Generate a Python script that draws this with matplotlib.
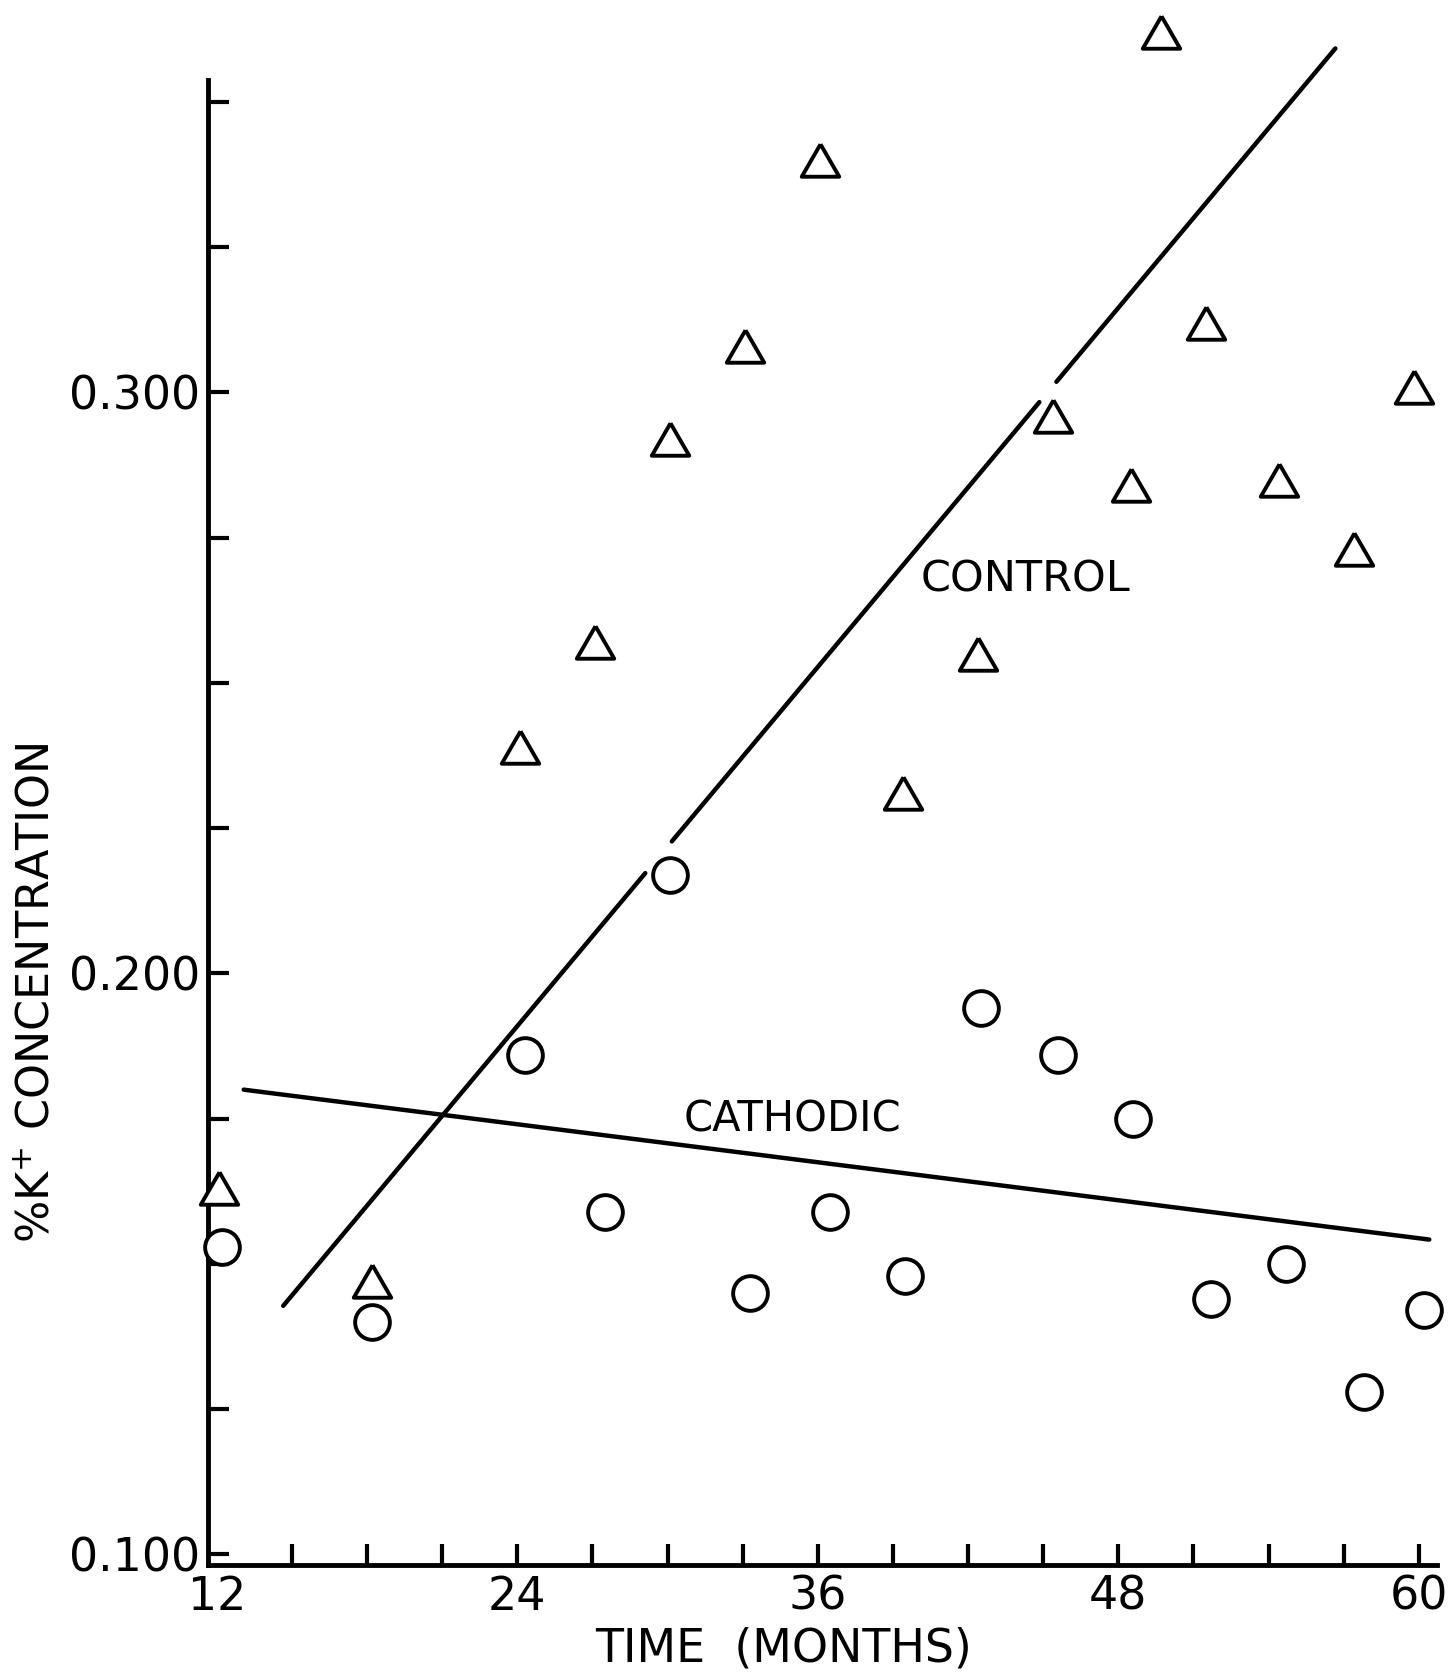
import numpy as np
import matplotlib.pyplot as plt

# control plots (triangles)
control_months = [12.1, 18.2, 24.1, 27.1, 30.1, 33.1, 36.1, 39.4, 42.4, 45.4,
                  48.5, 49.7, 51.5, 54.4, 57.4, 59.8]
control_k = [0.163, 0.147, 0.239, 0.257, 0.292, 0.308, 0.340, 0.231, 0.255, 0.296,
             0.284, 0.362, 0.312, 0.285, 0.273, 0.301]

# cathodic plots (circles)
cathodic_months = [12.2, 18.2, 24.3, 27.5, 30.1, 33.3, 36.5, 39.5, 42.5, 45.6,
                   48.6, 51.7, 54.7, 57.8, 60.2]
cathodic_k = [0.153, 0.140, 0.186, 0.159, 0.217, 0.145, 0.159, 0.148, 0.194, 0.186,
              0.175, 0.144, 0.150, 0.128, 0.142]

# fitted lines (end points), control line is broken where it passes the markers
control_fit_x = [14.65, 56.67]
control_fit_y = [0.1428, 0.3592]
control_breaks = [(29.11, 30.17), (44.85, 45.53)]
cathodic_fit_x = [13.07, 60.42]
cathodic_fit_y = [0.180, 0.1542]

xticks = np.arange(12, 61, 3)
yticks = np.arange(0.100, 0.3501, 0.025)
xlabels = [str(v) if v % 12 == 0 else "" for v in xticks]
ylabels = ["%.3f" % v if abs(v * 10 - round(v * 10)) < 1e-6 else "" for v in yticks]

plt.rcParams['font.family'] = ['DejaVu Sans']
fig = plt.figure(figsize=(14.53, 16.75), dpi=100)
ax = fig.add_axes([0.1434, 0.0657, 0.8456, 0.8863])

lw = 3.2
# control line pieces
edges = [control_fit_x[0]]
for a, b in control_breaks:
    edges += [a, b]
edges.append(control_fit_x[1])
for i in range(0, len(edges), 2):
    xs = np.array([edges[i], edges[i + 1]])
    ys = np.interp(xs, control_fit_x, control_fit_y)
    ax.plot(xs, ys, color='black', lw=lw, solid_capstyle='round', clip_on=False, zorder=2)

ax.plot(cathodic_fit_x, cathodic_fit_y, color='black', lw=lw,
        solid_capstyle='round', clip_on=False, zorder=2)

tri = [(0, 0.866), (-1, -0.866), (1, -0.866), (0, 0.866)]
ax.plot(control_months, control_k, linestyle='none', marker=tri, ms=27,
        mfc='white', mec='black', mew=2.8, clip_on=False, zorder=3)
ax.plot(cathodic_months, cathodic_k, linestyle='none', marker='o', ms=25,
        mfc='white', mec='black', mew=2.8, clip_on=False, zorder=3)

ax.text(40.11, 0.2678, "CONTROL", fontsize=31, va='center', ha='left')
ax.text(30.64, 0.1748, "CATHODIC", fontsize=30, va='center', ha='left')

ax.set_xlim(11.66, 60.73)
ax.set_ylim(0.0982, 0.3537)
ax.set_xticks(xticks)
ax.set_xticklabels(xlabels)
ax.set_yticks(yticks)
ax.set_yticklabels(ylabels)
ax.tick_params(direction='in', length=15, width=3, labelsize=33)
ax.tick_params(axis='x', pad=7)
ax.tick_params(axis='y', pad=6)
# no tick stroke at 12, only the label (it sits on the y axis)
ax.xaxis.get_major_ticks()[0].tick1line.set_visible(False)

for s in ['top', 'right']:
    ax.spines[s].set_visible(False)
for s in ['left', 'bottom']:
    ax.spines[s].set_linewidth(3.5)

fig.text(0.539, 0.002, "TIME  (MONTHS)", fontsize=33, ha='center', va='bottom')
fig.text(0.0257, 0.407, "%K$^{+}$ CONCENTRATION", fontsize=32, rotation=90,
         ha='center', va='center')

fig.savefig("out.png", dpi=100, facecolor='white')
